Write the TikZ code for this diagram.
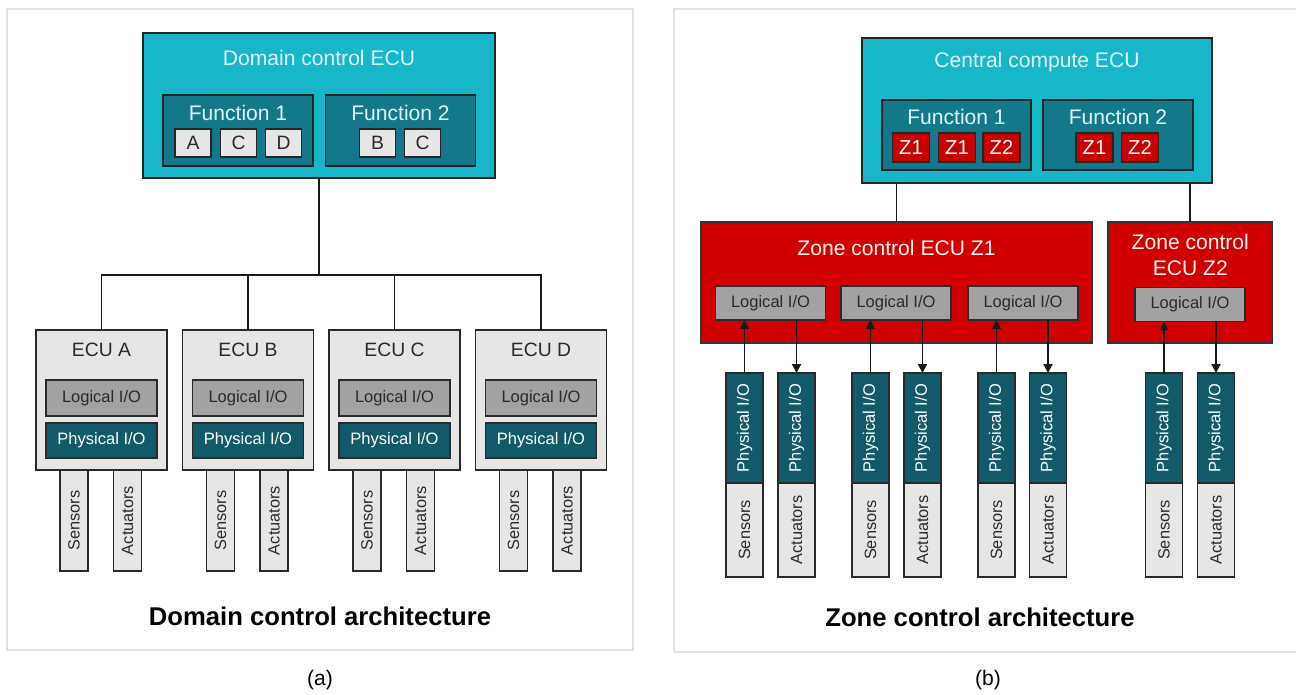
\documentclass[tikz,border=0pt]{standalone}
\usepackage{fontspec}
\setmainfont{Liberation Sans}
\usetikzlibrary{arrows.meta}
\definecolor{panelgray}{HTML}{E2E2E2}
\definecolor{ecucyan}{HTML}{17B7C9}
\definecolor{functeal}{HTML}{13798A}
\definecolor{phyteal}{HTML}{125A69}
\definecolor{loggray}{HTML}{A2A2A2}
\definecolor{boxgray}{HTML}{E6E6E6}
\definecolor{zonered}{HTML}{D00000}
\definecolor{tagred}{HTML}{C80000}
\definecolor{lightcyan}{HTML}{DDF5F8}
\definecolor{inkgray}{HTML}{2A2A2A}
\tikzset{
  every node/.style={inner sep=0pt, outer sep=0pt},
  panel/.style={draw=panelgray, line width=1pt, fill=white},
  cpu/.style={draw=black!85, line width=0.9pt, fill=ecucyan},
  func/.style={draw=black!85, line width=0.9pt, fill=functeal, minimum height=1.42cm, minimum width=3cm},
  tag/.style={draw=black!85, line width=0.8pt, fill=boxgray, text=inkgray, minimum width=0.72cm, minimum height=0.56cm, font=\fontsize{11}{12}\selectfont},
  ztag/.style={draw=black!85, line width=0.8pt, fill=tagred, text=white, minimum width=0.74cm, minimum height=0.58cm, font=\fontsize{11.5}{12}\selectfont},
  head/.style={text=lightcyan, font=\fontsize{12}{14}\selectfont},
  ecu/.style={draw=inkgray, line width=1pt, fill=boxgray, minimum width=2.62cm, minimum height=2.8cm},
  ecuhead/.style={text=inkgray, font=\fontsize{11}{13}\selectfont},
  logic/.style={draw=inkgray, line width=1pt, fill=loggray, text=inkgray, minimum width=2.22cm, minimum height=0.72cm, font=\fontsize{9.4}{11}\selectfont},
  phys/.style={draw=inkgray, line width=1pt, fill=phyteal, text=white, minimum width=2.22cm, minimum height=0.7cm, font=\fontsize{9.4}{11}\selectfont},
  bar/.style={draw=inkgray, line width=1pt, fill=boxgray, text=inkgray, rotate=90, minimum width=2.02cm, minimum height=0.56cm, font=\fontsize{9.3}{11}\selectfont},
  zone/.style={draw=black!80, line width=0.9pt, fill=zonered},
  zhead/.style={text=white!95!red, font=\fontsize{12}{15}\selectfont, align=center},
  zlogic/.style={logic, minimum width=2.2cm, minimum height=0.68cm},
  zphys/.style={phys, rotate=90, minimum width=2.2cm, minimum height=0.74cm},
  zbar/.style={bar, minimum width=1.88cm, minimum height=0.74cm},
  caption/.style={text=black, font=\fontsize{14.6}{17}\selectfont\bfseries},
  sub/.style={text=black, font=\fontsize{12}{14}\selectfont},
  bus/.style={draw=black!90, line width=1.1pt},
  sig/.style={draw=black!90, line width=1.1pt, -{Triangle[length=5pt,width=5pt]}}
}
\begin{document}
\begin{tikzpicture}[x=0.02cm, y=-0.02cm]
  \useasboundingbox (0,0) rectangle (1296,694);
  % panels
  \node[panel, minimum width=12.52cm, minimum height=12.82cm] (pa) at (320,329.5) {};
  \node[panel, minimum width=12.56cm, minimum height=12.86cm] (pb) at (988,330.5) {};
  % (a) domain control
  \node[cpu, minimum width=7.04cm, minimum height=2.9cm] (dom) at (319,105.5) {};
  \node[head] (domt) at (319,58) {Domain control ECU};
  \node[func] (df1) at (238,130.5) {};
  \node[func] (df2) at (400.5,130.5) {};
  \node[head] (df1t) at (238,113) {Function 1};
  \node[head] (df2t) at (400.5,113) {Function 2};
  \node[tag] (ta) at (193,143) {A};
  \node[tag] (tc) at (238.5,143) {C};
  \node[tag] (td) at (283.5,143) {D};
  \node[tag] (tb) at (377.5,143) {B};
  \node[tag] (tc2) at (422.5,143) {C};
  \node[ecu] (ea) at (101.5,400) {};
  \node[ecu] (eb) at (248,400) {};
  \node[ecu] (ec) at (394.5,400) {};
  \node[ecu] (ed) at (541,400) {};
  \node[ecuhead] (eat) at (101.5,350) {ECU A};
  \node[ecuhead] (ebt) at (248,350) {ECU B};
  \node[ecuhead] (ect) at (394.5,350) {ECU C};
  \node[ecuhead] (edt) at (541,350) {ECU D};
  \node[logic] (la) at (101.5,398) {Logical I/O};
  \node[logic] (lb) at (248,398) {Logical I/O};
  \node[logic] (lc) at (394.5,398) {Logical I/O};
  \node[logic] (ld) at (541,398) {Logical I/O};
  \node[phys] (pha) at (101.5,440.5) {Physical I/O};
  \node[phys] (phb) at (248,440.5) {Physical I/O};
  \node[phys] (phc) at (394.5,440.5) {Physical I/O};
  \node[phys] (phd) at (541,440.5) {Physical I/O};
  \node[bar] (sa) at (74,520.5) {Sensors};
  \node[bar] (aa) at (127.5,520.5) {Actuators};
  \node[bar] (sb) at (220.5,520.5) {Sensors};
  \node[bar] (ab) at (274,520.5) {Actuators};
  \node[bar] (sc) at (367,520.5) {Sensors};
  \node[bar] (ac) at (420.5,520.5) {Actuators};
  \node[bar] (sd) at (513.5,520.5) {Sensors};
  \node[bar] (ad) at (567,520.5) {Actuators};
  \coordinate (bus) at (319,275);
  \begin{scope}[bus]
    \draw (dom.south) -- (bus);
    \draw (ea.north) |- (bus);
    \draw (ed.north) |- (bus);
    \draw (eb.north) -- (eb.north |- bus);
    \draw (ec.north) -- (ec.north |- bus);
  \end{scope}
  \node[caption] (capa) at (320,616) {Domain control architecture};
  \node[sub] (suba) at (320,680) {(a)};
  % (b) zone control
  \node[cpu, minimum width=7cm, minimum height=2.9cm] (cen) at (1037,110.5) {};
  \node[head] (cent) at (1037,62) {Central compute ECU};
  \node[func, minimum width=2.98cm, minimum height=1.4cm] (cf1) at (956.5,135) {};
  \node[func, minimum width=3cm, minimum height=1.4cm] (cf2) at (1118,135) {};
  \node[head] (cf1t) at (956.5,117) {Function 1};
  \node[head] (cf2t) at (1118,117) {Function 2};
  \node[ztag] (z1) at (911,147.5) {Z1};
  \node[ztag] (z2) at (957,147.5) {Z1};
  \node[ztag] (z3) at (1001.5,147.5) {Z2};
  \node[ztag] (z4) at (1094.5,147.5) {Z1};
  \node[ztag] (z5) at (1140,147.5) {Z2};
  \node[zone, minimum width=7.83cm, minimum height=2.42cm] (zn1) at (896.5,282.5) {};
  \node[zone, minimum width=3.29cm, minimum height=2.42cm] (zn2) at (1190.3,282.5) {};
  \node[zhead] (zn1t) at (896.5,248) {Zone control ECU Z1};
  \node[zhead] (zn2t) at (1190.3,255) {Zone control\\ECU Z2};
  \begin{scope}[bus]
    \draw (cen.south -| zn1.north) -- (zn1.north);
    \draw (cen.south -| zn2.north) -- (zn2.north);
  \end{scope}
  \node[zlogic] (l1) at (770.5,303) {Logical I/O};
  \node[zlogic] (l2) at (896,303) {Logical I/O};
  \node[zlogic] (l3) at (1023,303) {Logical I/O};
  \node[zlogic] (l4) at (1190,304.5) {Logical I/O};
  \node[zphys] (p1) at (744.5,428) {Physical I/O};
  \node[zphys] (p2) at (796.5,428) {Physical I/O};
  \node[zphys] (p3) at (870.5,428) {Physical I/O};
  \node[zphys] (p4) at (922.5,428) {Physical I/O};
  \node[zphys] (p5) at (996.5,428) {Physical I/O};
  \node[zphys] (p6) at (1048,428) {Physical I/O};
  \node[zphys] (p7) at (1164,428) {Physical I/O};
  \node[zphys] (p8) at (1216,428) {Physical I/O};
  \node[zbar] (s1) at (744.5,530) {Sensors};
  \node[zbar] (a1) at (796.5,530) {Actuators};
  \node[zbar] (s2) at (870.5,530) {Sensors};
  \node[zbar] (a2) at (922.5,530) {Actuators};
  \node[zbar] (s3) at (996.5,530) {Sensors};
  \node[zbar] (a3) at (1048,530) {Actuators};
  \node[zbar] (s4) at (1164,530) {Sensors};
  \node[zbar] (a4) at (1216,530) {Actuators};
  \begin{scope}[sig]
    \draw (p1.east) -- (p1.east |- l1.south);
    \draw (p2.east |- l1.south) -- (p2.east);
    \draw (p3.east) -- (p3.east |- l2.south);
    \draw (p4.east |- l2.south) -- (p4.east);
    \draw (p5.east) -- (p5.east |- l3.south);
    \draw (p6.east |- l3.south) -- (p6.east);
    \draw (p7.east) -- (p7.east |- l4.south);
    \draw (p8.east |- l4.south) -- (p8.east);
  \end{scope}
  \node[caption] (capb) at (980,617) {Zone control architecture};
  \node[sub] (subb) at (988,680) {(b)};
\end{tikzpicture}
\end{document}
